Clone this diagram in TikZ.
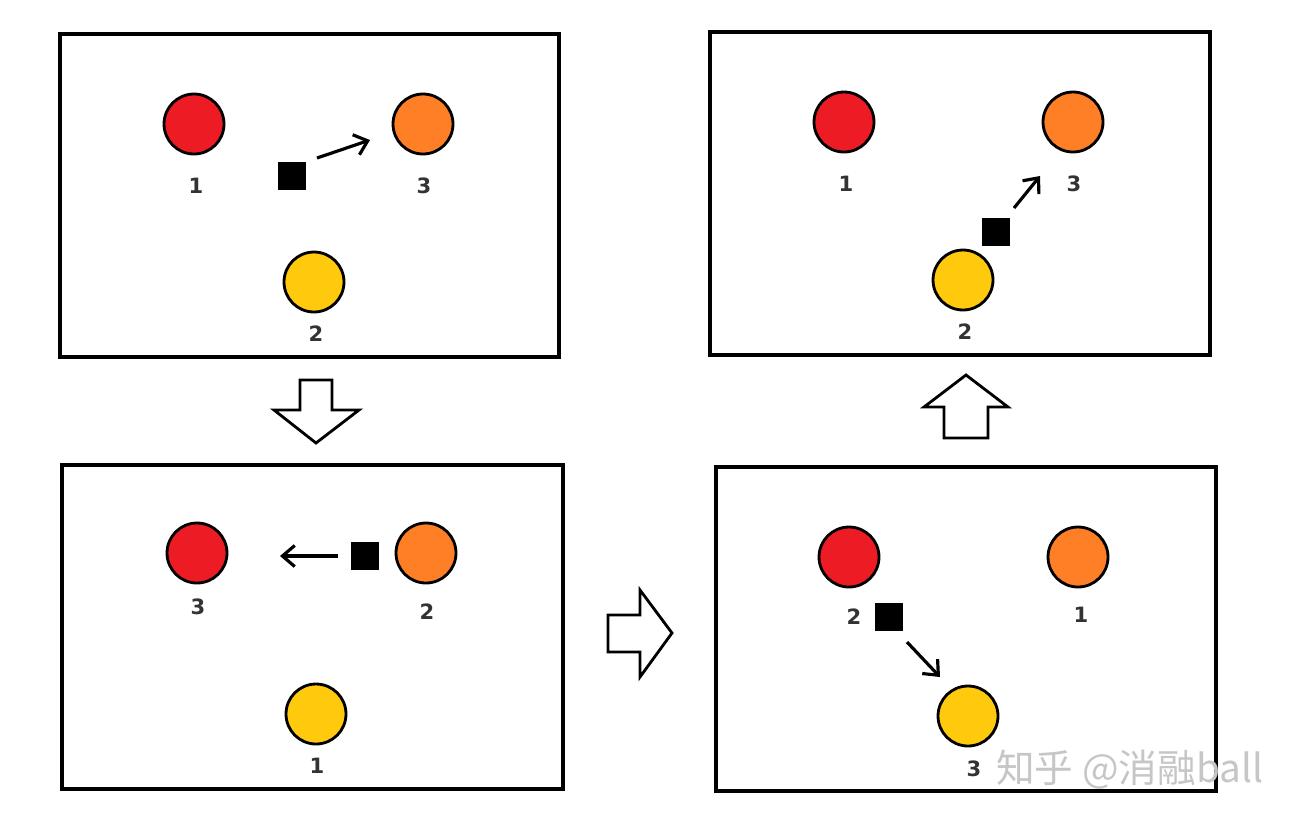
\documentclass[tikz,border=0pt]{standalone}
\usepackage{fontspec}
\setmainfont{DejaVu Sans}
\newfontfamily\cjk{Noto Sans CJK SC}
\usetikzlibrary{arrows.meta}
\begin{document}
\begin{tikzpicture}[x=0.02cm,y=-0.02cm,
  box/.style={draw,line width=2.2pt},
  ball/.style={circle,draw,line width=1.6pt,minimum size=1.2cm,inner sep=0pt},
  sq/.style={fill=black,minimum size=0.56cm,inner sep=0pt},
  lab/.style={font=\fontsize{12}{14}\selectfont\bfseries,text=black!80},
  mv/.style={->,line width=1.8pt,>={Straight Barb[length=7pt,width=12pt]}},
  big/.style={draw,line width=1.6pt,fill=white,line join=miter}]
\useasboundingbox (0,0) rectangle (1294,823);
\fill[white] (0,0) rectangle (1294,823);
\definecolor{cr}{HTML}{ED1C24}\definecolor{co}{HTML}{FF7F27}\definecolor{cy}{HTML}{FFC90E}
% TL
\draw[box] (60,34) rectangle (559,357);
\node[ball,fill=cr] (a1) at (194,124) {};
\node[ball,fill=co] (a3) at (423,124) {};
\node[ball,fill=cy] (a2) at (314,282) {};
\node[lab] (la1) at (196,186) {1};
\node[lab] (la3) at (424,186) {3};
\node[lab] (la2) at (316,334) {2};
\node[sq] (as) at (292,176) {};
\draw[mv] (317,158) coordinate (ab) -- (370,140) coordinate (ae);
% TR
\draw[box] (710,32) rectangle (1210,355);
\node[ball,fill=cr] (b1) at (844,122) {};
\node[ball,fill=co] (b3) at (1073,122) {};
\node[ball,fill=cy] (b2) at (963,280) {};
\node[lab] (lb1) at (846,184) {1};
\node[lab] (lb3) at (1074,184) {3};
\node[lab] (lb2) at (965,332) {2};
\node[sq] (bs) at (996,232) {};
\draw[mv] (1014,208) coordinate (bb) -- (1040,176) coordinate (be);
% BL
\draw[box] (62,465) rectangle (563,789);
\node[ball,fill=cr] (c1) at (197,553) {};
\node[ball,fill=co] (c2) at (426,553) {};
\node[ball,fill=cy] (c3) at (316,714) {};
\node[lab] (lc1) at (198,607) {3};
\node[lab] (lc2) at (427,612) {2};
\node[lab] (lc3) at (317,766) {1};
\node[sq] (cs) at (365,556) {};
\draw[mv] (338,556) coordinate (cb) -- (280,556) coordinate (ce);
% BR
\draw[box] (716,467) rectangle (1216,791);
\node[ball,fill=cr] (d1) at (849,557) {};
\node[ball,fill=co] (d2) at (1078,557) {};
\node[ball,fill=cy] (d3) at (968,716) {};
\node[lab] (ld1) at (854,617) {2};
\node[lab] (ld2) at (1081,615) {1};
\node[lab] (ld3) at (974,769) {3};
\node[sq] (ds) at (889,617) {};
\draw[mv] (907,642) coordinate (db) -- (940,677) coordinate (de);
% big arrows
\draw[big] (300,380) -- (332,380) -- (332,410) -- (359,410) -- (316,443) -- (274,410) -- (300,410) -- cycle;
\draw[big] (608,615) -- (640,615) -- (640,590) -- (672,633) -- (640,677) -- (640,652) -- (608,652) -- cycle;
\draw[big] (944,438) -- (944,407) -- (924,407) -- (966,375) -- (1008,407) -- (988,407) -- (988,438) -- cycle;
% watermark
\node[text=gray!45,font=\cjk\fontsize{22}{24}\selectfont,anchor=west] (wm) at (990,770) {知乎 @消融ball};
\end{tikzpicture}
\end{document}
